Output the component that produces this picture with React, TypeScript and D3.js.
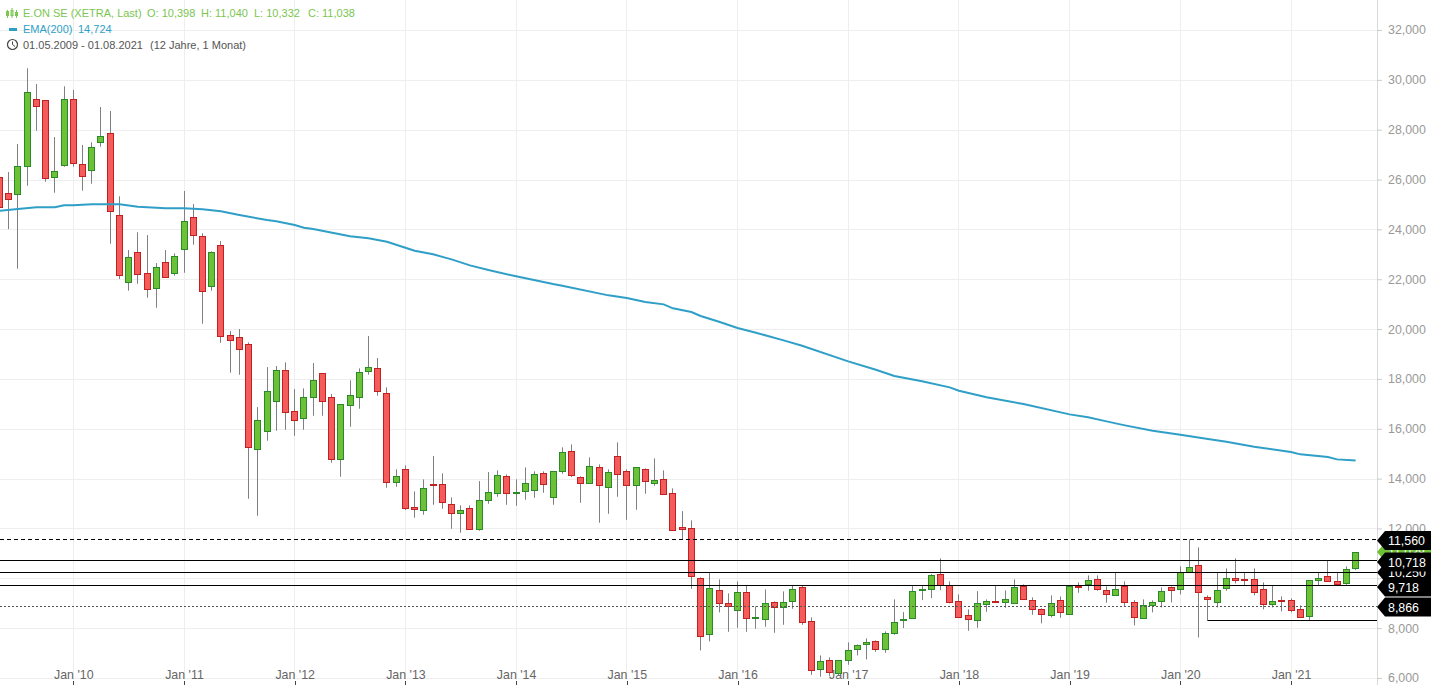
import { useRef, useEffect } from "react";
import * as d3 from "d3";

// monthly candles, May 2009 .. Aug 2021
const opens = [
  26113, 25460, 25407, 26530, 29219, 29179, 26089, 26570, 29219, 26611,
  26370, 27493, 27855, 24564, 21875, 23079, 22237, 21635, 22678, 22237,
  23200, 24484, 23721, 21715, 23360, 19748, 19668, 19387, 15174, 15896,
  17100, 18343, 16699, 16417, 17261, 18223, 17261, 14772, 16940, 17261,
  18304, 18424, 17421, 13849, 14371, 12846, 12725, 13769, 13769, 12966,
  12605, 12806, 11987, 13127, 13407, 14090, 13432, 13488, 13528, 14210,
  13247, 14291, 15093, 14050, 13809, 14451, 13648, 14893, 14291, 13729,
  14371, 13809, 13970, 13407, 12043, 12003, 9997, 7750, 9515, 8994,
  8713, 9435, 8392, 8352, 9034, 8833, 9074, 9636, 8271, 6345,
  6706, 6184, 6706, 7148, 7348, 7469, 7148, 7790, 8311, 8392,
  9515, 9555, 10157, 9716, 9074, 8512, 8311, 8953, 9086, 9058,
  8994, 9676, 9114, 8753, 8512, 9114, 8552, 9688, 9756, 9957,
  9515, 9315, 9676, 9034, 8392, 8913, 9074, 9636, 9555, 10238,
  10519, 9234, 9034, 9596, 9997, 9957, 9957, 9555, 8953, 9114,
  9114, 8753, 8472, 9916, 10077, 9876, 9796, 10398,
];
const closes = [
  24909, 25200, 26530, 29500, 28938, 26049, 26330, 29219, 26651, 26129,
  27293, 27734, 24725, 22156, 22879, 22196, 21594, 22477, 22076, 22919,
  24323, 23761, 21514, 23079, 19708, 19548, 19186, 15254, 16337, 17501,
  18343, 16658, 16337, 17261, 17943, 17100, 14772, 16979, 17340, 18264,
  18464, 17501, 13849, 14090, 12806, 12766, 13608, 13729, 13047, 12605,
  12725, 11963, 13127, 13448, 14130, 13407, 13448, 13809, 14170, 13769,
  14291, 15053, 14130, 13809, 14491, 13729, 14251, 14170, 13729, 14451,
  13889, 13929, 13367, 11923, 11987, 10077, 7668, 9596, 8994, 8897,
  9435, 8392, 8432, 8994, 8833, 9034, 9555, 8231, 6304, 6666,
  6224, 6706, 7107, 7308, 7428, 7148, 7790, 8231, 8352, 9475,
  9555, 10117, 9716, 9034, 8432, 8352, 8994, 9074, 9046, 9154,
  9636, 9154, 8753, 8552, 8994, 8632, 9676, 9660, 9916, 9555,
  9355, 9555, 9034, 8432, 8913, 9034, 9475, 9515, 10238, 10438,
  9435, 9154, 9515, 9997, 9916, 9916, 9435, 8953, 9074, 9074,
  8713, 8432, 9916, 9997, 9876, 9756, 10358, 11038,
];
const highs = [
  26984, 26300, 27425, 30463, 29833, 29179, 27706, 29741, 29592, 27385,
  27493, 28910, 28750, 25326, 23171, 23882, 23773, 22650, 23171, 23039,
  25539, 25017, 23842, 23119, 23533, 19921, 20001, 19467, 16871, 18476,
  18516, 18665, 17593, 17621, 18637, 18223, 17393, 16979, 17943, 18424,
  19720, 18837, 17662, 14371, 14531, 13488, 13970, 14905, 14211, 13247,
  12926, 12926, 13901, 14263, 14331, 14170, 13970, 14451, 14291, 14291,
  14291, 15254, 15374, 14090, 14852, 14572, 14371, 15454, 14371, 14451,
  14411, 14812, 14331, 13608, 12698, 12324, 10037, 10238, 9957, 9395,
  9876, 9716, 8873, 9555, 9074, 9475, 9716, 9716, 8432, 6906,
  6826, 6706, 7428, 7348, 7589, 7509, 7870, 9154, 8644, 9688,
  9688, 10169, 10799, 9876, 9355, 8753, 9487, 9154, 9688, 9515,
  9957, 9756, 9234, 8793, 9315, 9274, 9676, 9836, 10117, 10117,
  9676, 10238, 9876, 9126, 9154, 9114, 9636, 9676, 10478, 11562,
  11241, 9315, 10238, 10398, 10799, 10238, 10398, 9836, 9716, 9274,
  9194, 8913, 9916, 10238, 10719, 10238, 10478, 11040,
];
const lows = [
  22822, 24010, 22421, 25752, 27959, 25912, 25471, 26514, 26514, 25551,
  25832, 27317, 23424, 22008, 21538, 21819, 21257, 20856, 22076, 22140,
  22261, 23384, 20214, 21538, 19451, 18248, 18167, 13191, 12509, 15519,
  15920, 15960, 15719, 15960, 16522, 16522, 14636, 14074, 16080, 16803,
  18167, 17325, 13633, 13673, 12738, 12429, 12549, 12950, 12790, 11987,
  11827, 11963, 11907, 12990, 13271, 12950, 12910, 13151, 13231, 13432,
  12950, 14194, 14062, 13031, 13809, 12228, 12589, 13271, 12348, 12750,
  13392, 13713, 13367, 11923, 11562, 9580, 7107, 7469, 8632, 7854,
  8014, 7854, 7974, 8055, 7814, 8135, 8777, 8135, 6128, 6048,
  6076, 6116, 6530, 6906, 6746, 7051, 7011, 7734, 8002, 8392,
  9126, 9206, 9527, 8994, 8404, 7894, 8014, 8656, 9018, 8817,
  8994, 9154, 8536, 8191, 8432, 8416, 8552, 9419, 9499, 9499,
  9018, 9287, 8873, 8111, 8392, 8632, 8833, 9034, 9355, 10238,
  7629, 8311, 8833, 9499, 9796, 9716, 9315, 8753, 8833, 8672,
  8632, 8432, 8311, 9716, 9876, 9756, 9740, 10332,
];

// EMA(200) read at these candle indices
const emaIndex = [
  0, 2, 4, 6, 7, 8, 10, 13, 15, 18, 20, 22, 24, 26, 29, 30, 32, 33, 34, 38,
  40, 42, 44, 45, 47, 49, 51, 53, 56, 60, 61, 66, 68, 70, 72, 73, 75, 76, 78, 80,
  82, 85, 87, 92, 95, 97, 100, 103, 104, 107, 111, 116, 118, 120, 122, 125, 128,
  131, 133, 136, 140, 141, 144, 145, 147,
];
const emaValues = [
  24749, 24817, 24885, 24885, 24965, 24965, 25005, 25005, 24909, 24845, 24845, 24805,
  24725, 24576, 24375, 24323, 24175, 24066, 24014, 23721, 23641, 23504, 23264, 23143,
  22999, 22798, 22557, 22369, 22116, 21807, 21739, 21353, 21245, 21085, 20992, 20832,
  20683, 20523, 20294, 20041, 19853, 19548, 19331, 18705, 18368, 18115, 17903, 17661,
  17525, 17261, 16992, 16578, 16458, 16297, 16137, 15920, 15760, 15587, 15479, 15278,
  15065, 14973, 14865, 14772, 14724,
];

const yTicks = [6000, 8000, 10000, 12000, 14000, 16000, 18000, 20000, 22000, 24000, 26000, 28000, 30000, 32000];
const xTickIndex = [8, 20, 32, 44, 56, 68, 80, 92, 104, 116, 128, 140];
const xTickLabels = ["Jan '10", "Jan '11", "Jan '12", "Jan '13", "Jan '14", "Jan '15", "Jan '16", "Jan '17", "Jan '18", "Jan '19", "Jan '20", "Jan '21"];

const dashedLevel = 11560;
const solidLevels = [10718, 10250, 9718];
const dottedLevel = 8866;
const supportLevel = 8311;
const supportStart = 131;

const lastClose = 11038;

const WIDTH = 1431;
const HEIGHT = 685;
const PLOT_RIGHT = 1377;
const FONT = "'Liberation Sans', Arial, sans-serif";
const GREEN = "#6cc136";
const GREEN_DARK = "#2a8a2a";
const RED = "#f45b5b";
const RED_DARK = "#c12020";
const BLUE = "#2f9fc8";
const HEAD_GREEN = "#7ac64f";
const fmt = d3.format(",");

const x = d3.scaleLinear().domain([0, 147]).range([-0.5, 1355.6]);
const y = d3.scaleLinear().domain([6000, 32000]).range([678, 30]);
const px = (v: number) => Math.floor(v) + 0.5;
const gridY = (v: number) => Math.round(v) + 0.5;

// price tags on the axis are pushed apart so they stay readable
const tags = [
  { value: lastClose, cy: 552, color: GREEN },
  { value: solidLevels[1], cy: 572.5, color: "#000" },
  { value: dashedLevel, cy: 540.5, color: "#000" },
  { value: solidLevels[0], cy: 562, color: "#000" },
  { value: solidLevels[2], cy: 587, color: "#000" },
  { value: dottedLevel, cy: 607, color: "#000" },
];

function tagPath(cy: number) {
  const h = 9.5;
  return `M${PLOT_RIGHT},${cy}L${PLOT_RIGHT + 8},${cy - h}H${WIDTH}V${cy + h}H${PLOT_RIGHT + 8}Z`;
}

export default function App() {
  const xAxisRef = useRef<SVGGElement>(null);
  const yAxisRef = useRef<SVGGElement>(null);

  useEffect(() => {
    if (!xAxisRef.current || !yAxisRef.current) return;
    d3.select(xAxisRef.current)
      .call(
        d3
          .axisBottom(x)
          .tickValues(xTickIndex)
          .tickSize(4)
          .tickPadding(-15)
          .tickFormat((_, i) => xTickLabels[i])
      )
      .call((g) => g.select(".domain").remove())
      .call((g) => g.selectAll(".tick line").attr("stroke", "#444").attr("shape-rendering", "crispEdges"))
      .call((g) =>
        g
          .selectAll<SVGTextElement, unknown>(".tick text")
          .attr("fill", "#666")
          .attr("font-size", 12.4)
          .attr("font-family", FONT)
      );

    d3.select(yAxisRef.current)
      .call(d3.axisRight(y).tickValues(yTicks).tickSize(5).tickPadding(6).tickFormat((d) => fmt(d as number)))
      .call((g) => g.select(".domain").remove())
      .call((g) => g.selectAll(".tick line").attr("stroke", "#ccc"))
      .call((g) =>
        g
          .selectAll<SVGTextElement, unknown>(".tick text")
          .attr("fill", "#999")
          .attr("font-size", 12.4)
          .attr("font-family", FONT)
      );
  }, []);

  const emaLine = d3
    .line<number>()
    .x((d) => x(d))
    .y((_, i) => y(emaValues[i]));

  return (
    <svg
      width={WIDTH}
      height={HEIGHT}
      style={{ position: "absolute", left: 0, top: 0, display: "block", background: "#fff" }}
      fontFamily={FONT}
    >
      {/* grid */}
      {yTicks.map((t) => (
        <line key={t} x1={0} x2={PLOT_RIGHT} y1={gridY(y(t))} y2={gridY(y(t))} stroke="#eee" />
      ))}
      {xTickIndex.map((t) => (
        <line key={t} x1={px(x(t))} x2={px(x(t))} y1={0} y2={680} stroke="#eee" />
      ))}
      <line x1={PLOT_RIGHT + 0.5} x2={PLOT_RIGHT + 0.5} y1={0} y2={HEIGHT} stroke="#d8d8d8" />

      <g ref={xAxisRef} transform="translate(0,681)" />
      <g ref={yAxisRef} transform={`translate(${PLOT_RIGHT},0)`} />

      {/* candles */}
      {opens.map((o, i) => {
        const c = closes[i];
        const up = c >= o;
        const cx = px(x(i));
        const top = Math.round(y(Math.max(o, c))) + 0.5;
        const bottom = Math.round(y(Math.min(o, c))) + 0.5;
        const h = bottom - top;
        return (
          <g key={i}>
            <line x1={cx} x2={cx} y1={y(highs[i])} y2={y(lows[i])} stroke="#808080" />
            <rect
              x={cx - 3}
              y={top}
              width={6}
              height={Math.max(h, 1)}
              fill={up ? GREEN : RED}
              stroke={up ? GREEN_DARK : RED_DARK}
            />
          </g>
        );
      })}

      <path d={emaLine(emaIndex) ?? ""} fill="none" stroke={BLUE} strokeWidth={2} />

      {/* horizontal levels */}
      <line x1={0} x2={PLOT_RIGHT} y1={px(y(dashedLevel))} y2={px(y(dashedLevel))} stroke="#000" strokeDasharray="4 3" />
      {solidLevels.map((l) => (
        <line key={l} x1={0} x2={PLOT_RIGHT} y1={px(y(l))} y2={px(y(l))} stroke="#000" />
      ))}
      <line x1={0} x2={PLOT_RIGHT} y1={px(y(dottedLevel))} y2={px(y(dottedLevel))} stroke="#555" strokeDasharray="2 2" />
      <line x1={px(x(supportStart))} x2={PLOT_RIGHT} y1={px(y(supportLevel))} y2={px(y(supportLevel))} stroke="#000" />

      {/* axis price tags */}
      {tags.map((t) => (
        <g key={t.value}>
          <path d={tagPath(t.cy)} fill={t.color} />
          <text x={PLOT_RIGHT + 11} y={t.cy + 4.5} fontSize={12.4} fill="#fff">
            {fmt(t.value)}
          </text>
        </g>
      ))}

      {/* header */}
      <g fontSize={11}>
        <g stroke={HEAD_GREEN} fill="none">
          <path d="M7.5,10V18M12,8V18M16.5,10V18" />
          <rect x={6.5} y={11.5} width={2} height={4} />
          <rect x={11} y={10.5} width={2} height={5} />
          <rect x={15.5} y={12.5} width={2} height={3} />
        </g>
        <text x={23} y={17} fill={HEAD_GREEN}>E.ON SE (XETRA, Last)</text>
        <text x={147} y={17} fill={HEAD_GREEN}>O: 10,398</text>
        <text x={201} y={17} fill={HEAD_GREEN}>H: 11,040</text>
        <text x={254} y={17} fill={HEAD_GREEN}>L: 10,332</text>
        <text x={308} y={17} fill={HEAD_GREEN}>C: 11,038</text>

        <rect x={9} y={28} width={8} height={3} fill={BLUE} />
        <text x={23} y={33} fill={BLUE}>EMA(200)</text>
        <text x={78} y={33} fill={BLUE}>14,724</text>

        <circle cx={12.5} cy={44.5} r={5} fill="none" stroke="#444" strokeWidth={1.2} />
        <path d="M12.5,41.5V44.5L15,46.5" fill="none" stroke="#444" />
        <text x={23} y={49} fill="#555">01.05.2009 - 01.08.2021</text>
        <text x={150} y={49} fill="#555">(12 Jahre, 1 Monat)</text>
      </g>
    </svg>
  );
}
